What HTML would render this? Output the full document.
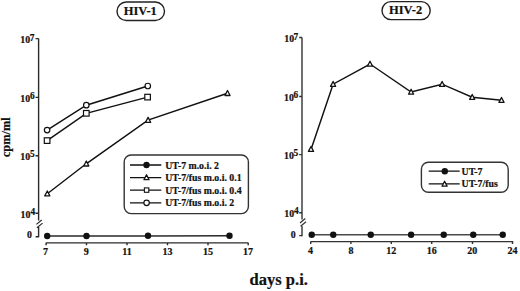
<!DOCTYPE html>
<html><head><meta charset="utf-8">
<style>
html,body{margin:0;padding:0;background:#fff;}
body{width:520px;height:291px;overflow:hidden;}
svg{display:block;}
text{font-family:"Liberation Serif",serif;font-weight:bold;fill:#111;stroke:#111;stroke-width:0.2px;}
</style></head>
<body>
<svg width="520" height="291" viewBox="0 0 520 291">
<defs>
  <path id="tri" d="M0,-2.75 L2.55,2.2 L-2.55,2.2 Z" fill="#fff" stroke="#111" stroke-width="1.3" stroke-linejoin="round"/>
  <rect id="sq" x="-2.8" y="-2.8" width="5.6" height="5.6" fill="#fff" stroke="#111" stroke-width="1.2"/>
  <rect id="sq2" x="-2.2" y="-2.2" width="4.4" height="4.4" fill="#fff" stroke="#111" stroke-width="1.1"/>
  <circle id="oc" r="2.75" fill="#fff" stroke="#111" stroke-width="1.2"/>
  <circle id="fc" r="3.2" fill="#111"/>
</defs>

<!-- Titles -->
<rect x="117" y="2" width="47.5" height="18.5" rx="9.25" ry="9.25" fill="none" stroke="#222" stroke-width="1.4"/>
<text x="140.3" y="15" font-size="12.5" text-anchor="middle">HIV-1</text>
<rect x="382" y="1.6" width="48.2" height="18" rx="9" ry="9" fill="none" stroke="#222" stroke-width="1.4"/>
<text x="405.6" y="14" font-size="12.5" text-anchor="middle">HIV-2</text>

<!-- Y label -->
<text transform="translate(9.8,157.2) rotate(-90)" font-size="12.3" textLength="40" lengthAdjust="spacingAndGlyphs">cpm/ml</text>

<!-- X label -->
<text x="249.6" y="285.4" font-size="16.3" textLength="58.3" lengthAdjust="spacingAndGlyphs">days p.i.</text>

<!-- ===== LEFT CHART ===== -->
<g stroke="#2a2a2a" stroke-width="1.4" fill="none">
  <path d="M38.6,38.6 V220.6 M38.6,227 V237.2"/>
  <path d="M35.5,38.6 H38.6 M35.5,97.4 H38.6 M35.5,155.7 H38.6 M35.5,213.3 H38.6 M35.6,236.8 H38.6"/>
  <path d="M36.4,224.4 L41.7,220 M36.9,227.7 L42.6,223.1" stroke-width="1.2"/>
  <path d="M45.8,242.9 H248.5"/>
  <path d="M46.1,242.9 V245.3 M86.5,242.9 V245.3 M127,242.9 V245.3 M167.5,242.9 V245.3 M208,242.9 V245.3 M248.2,242.9 V245.3"/>
</g>
<g font-size="9.8">
  <text x="20.3" y="42.6">10</text><text x="29.7" y="40.8" font-size="9.4">7</text>
  <text x="20.3" y="101.9">10</text><text x="30.1" y="99.4" font-size="9.4">6</text>
  <text x="20.3" y="160.2">10</text><text x="30.1" y="157.4" font-size="9.4">5</text>
  <text x="20.6" y="218.2">10</text><text x="30.5" y="215.2" font-size="9.4">4</text>
  <text x="27" y="238.1">0</text>
</g>
<g font-size="10" text-anchor="middle">
  <text x="45.6" y="255">7</text>
  <text x="86.2" y="255">9</text>
  <text x="127" y="255">11</text>
  <text x="167.5" y="255">13</text>
  <text x="208" y="255">15</text>
  <text x="248" y="255">17</text>
</g>
<!-- data lines -->
<g stroke="#111" stroke-width="1.45" fill="none">
  <polyline points="47.2,236 86.5,236 148,235.9 229.5,235.8" stroke="#2a2a2a"/>
  <polyline points="47.3,193.7 86.2,163.8 148,120.1 227.5,93.3"/>
  <polyline points="47.1,140.6 86.3,113.3 147.6,97.1"/>
  <polyline points="47.1,130.1 86.3,105.2 147.8,86"/>
</g>
<use href="#fc" x="47.2" y="236"/><use href="#fc" x="86.5" y="236"/><use href="#fc" x="148" y="235.7"/><use href="#fc" x="229.5" y="235.7"/>
<use href="#tri" x="47.3" y="193.7"/><use href="#tri" x="86.3" y="163.8"/><use href="#tri" x="148.1" y="120.1"/><use href="#tri" x="227.5" y="93.3"/>
<use href="#sq" x="47.1" y="140.6"/><use href="#sq" x="86.3" y="113.3"/><use href="#sq" x="147.6" y="97.1"/>
<use href="#oc" x="47.1" y="130.1"/><use href="#oc" x="86.3" y="105.2"/><use href="#oc" x="147.8" y="86"/>

<!-- left legend -->
<rect x="124.2" y="155" width="124.2" height="58.6" rx="7" ry="7" fill="#fff" stroke="#333" stroke-width="1.4"/>
<g stroke="#111" stroke-width="1.3">
  <path d="M130,165 H161.3 M130,177.6 H161.3 M130,190.1 H161.3 M130,202.8 H161.3"/>
</g>
<use href="#fc" x="146.5" y="165"/>
<use href="#tri" x="146.5" y="177.5"/>
<use href="#sq2" x="146.6" y="190.1"/>
<use href="#oc" x="146.6" y="202.8"/>
<g font-size="9.8">
  <text x="165.2" y="168.8">UT-7 m.o.i. 2</text>
  <text x="165.2" y="181.2">UT-7/fus m.o.i. 0.1</text>
  <text x="165.2" y="193.6">UT-7/fus m.o.i. 0.4</text>
  <text x="165.2" y="206">UT-7/fus m.o.i. 2</text>
</g>

<!-- ===== RIGHT CHART ===== -->
<g stroke="#333" stroke-width="1.4" fill="none">
  <path d="M302,37.5 V219.6 M302,226 V236.2"/>
  <path d="M299.2,37.5 H302 M299.2,96.5 H302 M299.2,154.6 H302 M299.2,212.7 H302 M299.2,235.6 H302"/>
  <path d="M300,223 L305.3,218.5 M300.6,226.3 L306,221.7" stroke-width="1.2"/>
  <path d="M310.4,241.6 H513.2"/>
  <path d="M310.7,241.6 V244 M350.9,241.6 V244 M391.3,241.6 V244 M431.7,241.6 V244 M472.5,241.6 V244 M512.5,241.6 V244"/>
</g>
<g font-size="9.8">
  <text x="284.3" y="41.8">10</text><text x="293.6" y="39.7" font-size="9.4">7</text>
  <text x="284.1" y="101.2">10</text><text x="293.5" y="97.8" font-size="9.4">6</text>
  <text x="284.1" y="159.3">10</text><text x="293.5" y="156.3" font-size="9.4">5</text>
  <text x="284.3" y="217">10</text><text x="294" y="213.7" font-size="9.4">4</text>
  <text x="290.8" y="237.5">0</text>
</g>
<g font-size="10" text-anchor="middle">
  <text x="310.6" y="254.3">4</text>
  <text x="350.9" y="254.3">8</text>
  <text x="391.3" y="254.3">12</text>
  <text x="431.7" y="254.3">16</text>
  <text x="472.2" y="254.3">20</text>
  <text x="512.5" y="254.3">24</text>
</g>
<g stroke="#111" stroke-width="1.45" fill="none">
  <polyline points="311.75,234.7 502.75,234.7" stroke="#4a4a4a" stroke-width="1.6"/>
  <polyline points="311.1,149.2 333.1,84.2 370,64 411.1,92 442.1,84.2 472.2,97.2 501.5,100.2"/>
</g>
<use href="#fc" x="311.75" y="234.7"/><use href="#fc" x="333.25" y="234.7"/><use href="#fc" x="370.75" y="234.7"/><use href="#fc" x="411.1" y="234.7"/><use href="#fc" x="443.75" y="234.7"/><use href="#fc" x="473.25" y="234.7"/><use href="#fc" x="502.75" y="234.7"/>
<use href="#tri" x="311" y="149.2"/><use href="#tri" x="333.1" y="84.2"/><use href="#tri" x="370" y="64"/><use href="#tri" x="411.1" y="92"/><use href="#tri" x="442.1" y="84.2"/><use href="#tri" x="472.2" y="97.2"/><use href="#tri" x="501.5" y="100.2"/>

<!-- right legend -->
<rect x="421.4" y="162.2" width="86.8" height="30" rx="7" ry="7" fill="#fff" stroke="#333" stroke-width="1.4"/>
<g stroke="#111" stroke-width="1.3">
  <path d="M428.7,171.2 H459.7 M428.7,183.8 H459.7"/>
</g>
<use href="#fc" x="444.8" y="171.2"/>
<use href="#tri" x="444.6" y="184"/>
<g font-size="9.8">
  <text x="461.6" y="174.9">UT-7</text>
  <text x="461.6" y="187.4">UT-7/fus</text>
</g>
</svg>
</body></html>
